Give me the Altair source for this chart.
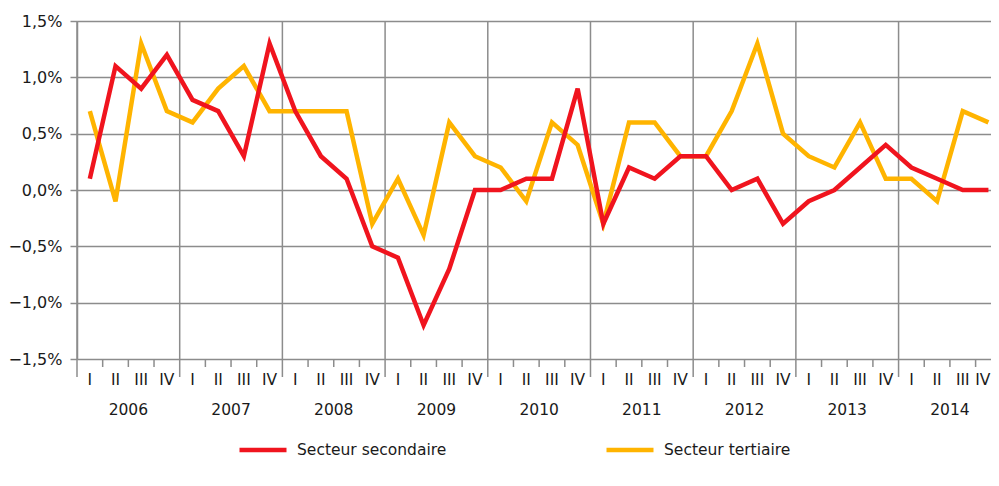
import altair as alt
import pandas as pd

years = ["2006", "2007", "2008", "2009", "2010", "2011", "2012", "2013", "2014"]
quarters = ["I", "II", "III", "IV"]
series_names = ["Secteur secondaire", "Secteur tertiaire"]
colors = ["#F0141E", "#FFB400"]

secondaire = [0.1, 1.1, 0.9, 1.2,
              0.8, 0.7, 0.3, 1.3,
              0.7, 0.3, 0.1, -0.5,
              -0.6, -1.2, -0.7, 0.0,
              0.0, 0.1, 0.1, 0.9,
              -0.3, 0.2, 0.1, 0.3,
              0.3, 0.0, 0.1, -0.3,
              -0.1, 0.0, 0.2, 0.4,
              0.2, 0.1, 0.0, 0.0]
tertiaire = [0.7, -0.1, 1.3, 0.7,
             0.6, 0.9, 1.1, 0.7,
             0.7, 0.7, 0.7, -0.3,
             0.1, -0.4, 0.6, 0.3,
             0.2, -0.1, 0.6, 0.4,
             -0.3, 0.6, 0.6, 0.3,
             0.3, 0.7, 1.3, 0.5,
             0.3, 0.2, 0.6, 0.1,
             0.1, -0.1, 0.7, 0.6]
y_ticks = [-1.5, -1.0, -0.5, 0.0, 0.5, 1.0, 1.5]

W, H = 914, 338
FONT = "DejaVu Sans"
FS = 15.5
TXT = "#1a1a1a"
GRID = "#8c8c8c"
n = len(years) * len(quarters)

rows = []
for i in range(n):
    rows.append({"pos": i + 0.5, "serie": series_names[0], "val": secondaire[i]})
    rows.append({"pos": i + 0.5, "serie": series_names[1], "val": tertiaire[i]})
df = pd.DataFrame(rows)

qlab = pd.DataFrame({"pos": [i + 0.5 for i in range(n)],
                     "lab": [quarters[i % 4] for i in range(n)]})
ylab = pd.DataFrame({"pos": [4 * k + 2 for k in range(len(years))], "lab": years})
ybound = pd.DataFrame({"b": [4 * k for k in range(len(years))]})
qbound = pd.DataFrame({"b": [i for i in range(n) if i % 4 != 0]})

xscale = alt.Scale(domain=[0, 35.6], nice=False, zero=False)
yscale = alt.Scale(domain=[-1.5, 1.5], nice=False, zero=False)

color = alt.Color("serie:N",
                  scale=alt.Scale(domain=series_names, range=colors),
                  legend=alt.Legend(title=None, orient="none", direction="horizontal",
                                    legendX=160, legendY=403,
                                    symbolType="stroke", symbolSize=2209,
                                    symbolStrokeWidth=4.5, labelFontSize=FS,
                                    labelFont=FONT, labelColor=TXT,
                                    labelOffset=8, columnPadding=150))

yaxis = alt.Axis(values=y_ticks, title=None, grid=True, gridColor=GRID, gridWidth=1.5,
                 domainColor=GRID, domainWidth=1.5, tickColor=GRID, tickWidth=1.5,
                 tickSize=7, labelPadding=8, labelFontSize=16, labelFont=FONT,
                 labelColor=TXT,
                 labelExpr="replace(format(datum.value, '.1f'), '.', ',') + '%'")

base = alt.Chart(df)

year_rules = alt.Chart(ybound).mark_rule(color=GRID, strokeWidth=1.5).encode(
    x=alt.X("b:Q", scale=xscale, axis=None),
    y=alt.value(0), y2=alt.value(H + 18))
q_rules = alt.Chart(qbound).mark_rule(color=GRID, strokeWidth=1.5).encode(
    x=alt.X("b:Q", scale=xscale, axis=None),
    y=alt.value(H), y2=alt.value(H + 8))

line_t = base.transform_filter(alt.datum.serie == series_names[1]).mark_line(
    strokeWidth=4.5, strokeJoin="miter").encode(
    x=alt.X("pos:Q", scale=xscale, axis=None),
    y=alt.Y("val:Q", scale=yscale, axis=yaxis),
    color=color)
line_s = base.transform_filter(alt.datum.serie == series_names[0]).mark_line(
    strokeWidth=4.5, strokeJoin="miter").encode(
    x=alt.X("pos:Q", scale=xscale, axis=None),
    y=alt.Y("val:Q", scale=yscale, axis=yaxis),
    color=color)

q_text = alt.Chart(qlab.iloc[:-1]).mark_text(fontSize=FS, font=FONT, color=TXT,
                                              baseline="middle").encode(
    x=alt.X("pos:Q", scale=xscale, axis=None),
    y=alt.value(H + 21), text="lab:N")
q_text_last = alt.Chart(qlab.iloc[-1:]).mark_text(fontSize=FS, font=FONT, color=TXT,
                                                   baseline="middle", align="right",
                                                   dx=2).encode(
    x=alt.X("pos:Q", scale=xscale, axis=None),
    y=alt.value(H + 21), text="lab:N")
y_text = alt.Chart(ylab).mark_text(fontSize=FS, font=FONT, color=TXT,
                                    baseline="middle").encode(
    x=alt.X("pos:Q", scale=xscale, axis=None),
    y=alt.value(H + 51), text="lab:N")

chart = alt.layer(year_rules, q_rules, line_t, line_s, q_text, q_text_last,
                  y_text).properties(
    width=W, height=H,
    autosize=alt.AutoSizeParams(type="none"),
    padding={"left": 69, "top": 13, "right": 0, "bottom": 115},
    background="white",
).configure_view(stroke=None)

chart.save("out.html", embed_options={"renderer": "svg", "actions": False})
